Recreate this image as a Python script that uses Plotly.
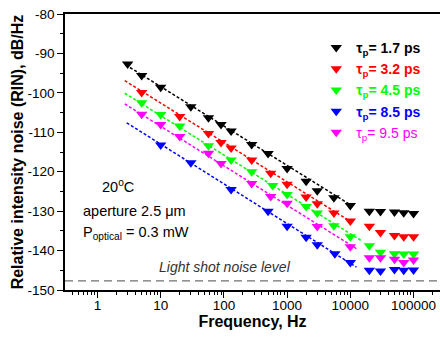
import plotly.graph_objects as go

# ---- data ----
labels = ["1.7", "3.2", "4.5", "8.5", "9.5"]
colors = ["#000000", "#FF0000", "#00FF00", "#0000FF", "#FF00FF"]
bold = [True, True, True, True, False]

freq_black = [3, 5, 10, 30, 57, 90, 130, 275, 500, 1000, 2000, 3000, 5500, 10000, 20000, 30000, 50000, 70000, 100000]
rin_black = [-92.7, -95.6, -98.6, -103.5, -106.3, -108.0, -109.7, -113.1, -115.4, -119.2, -122.4, -124.8, -126.6, -128.6, -130.0, -130.1, -130.2, -130.4, -130.6]

freq_red = [5, 20, 57, 90, 130, 275, 550, 1000, 2000, 3000, 5500, 10000, 20000, 30000, 50000, 70000, 100000]
rin_red = [-99.9, -106.0, -110.3, -112.6, -114.0, -117.0, -120.4, -123.2, -126.4, -128.1, -130.5, -132.5, -133.8, -135.4, -136.2, -136.5, -136.5]

freq_green = [5, 10, 20, 57, 130, 275, 590, 1000, 2000, 3000, 5500, 10000, 20000, 30000, 50000, 70000, 100000]
rin_green = [-102.5, -105.5, -108.4, -113.4, -117.0, -120.0, -123.5, -125.8, -128.8, -130.5, -133.7, -136.5, -138.8, -140.4, -140.8, -140.9, -140.9]

freq_blue = [10, 30, 130, 500, 1000, 2000, 3000, 5700, 10000, 20000, 30000, 50000, 70000, 100000]
rin_blue = [-113.2, -117.7, -124.5, -130.0, -133.8, -136.6, -138.5, -140.8, -143.0, -145.0, -145.2, -144.8, -145.0, -144.9]

freq_magenta = [5, 10, 20, 57, 90, 275, 550, 1000, 3000, 10000, 20000, 30000, 50000, 70000, 100000]
rin_magenta = [-105.4, -108.0, -111.1, -115.3, -117.9, -123.0, -126.3, -128.0, -133.9, -139.0, -141.8, -141.8, -142.2, -143.0, -142.4]

# fitted 1/f lines (end points)
fit_f = [[2.8, 10500], [2.7, 11000], [2.7, 15000], [2.9, 12500], [2.7, 12500]]
fit_rin = [[-92.9, -128.6], [-96.9, -133.0], [-100.1, -137.5], [-107.6, -144.2], [-102.8, -139.5]]

shot_noise_level = -147.7

x_ticks = [1, 10, 100, 1000, 10000, 100000]
x_ticklabels = ["1", "10", "100", "1000", "10000", "100000"]
y_ticks = [-150, -140, -130, -120, -110, -100, -90, -80]
y_ticklabels = ["-150", "-140", "-130", "-120", "-110", "-100", "-90", "-80"]

series_f = [freq_black, freq_red, freq_green, freq_blue, freq_magenta]
series_rin = [rin_black, rin_red, rin_green, rin_blue, rin_magenta]

FONT = "Liberation Sans, Arial, sans-serif"

fig = go.Figure()

for i in range(5):
    fig.add_trace(go.Scatter(
        x=fit_f[i], y=fit_rin[i], mode="lines",
        line=dict(color=colors[i], width=1.5, dash="3px,2px"),
        showlegend=False, hoverinfo="skip"))

for i in range(5):
    txt = "τ<sub>p</sub>= %s ps" % labels[i]
    if bold[i]:
        txt = "<b>" + txt + "</b>"
    name = "<span style='color:%s'>%s</span>" % (colors[i], txt)
    fig.add_trace(go.Scatter(
        x=series_f[i], y=series_rin[i], mode="markers", name=name,
        marker=dict(symbol="triangle-down", size=10, color=colors[i],
                    line=dict(width=0))))

fig.add_shape(type="line", xref="paper", x0=0, x1=1, yref="y",
              y0=shot_noise_level, y1=shot_noise_level,
              line=dict(color="#707070", width=1.2, dash="8px,5px"))

fig.add_annotation(xref="paper", yref="y", x=0.245, y=shot_noise_level + 1.0,
                   text="<i>Light shot noise level</i>", showarrow=False,
                   xanchor="left", yanchor="bottom",
                   font=dict(family=FONT, size=14, color="#333333"))

fig.add_annotation(xref="paper", yref="paper", x=0.094, y=0.378,
                   text="20<sup>o</sup>C", showarrow=False, xanchor="left", yanchor="middle",
                   font=dict(family=FONT, size=14.5, color="#000000"))
fig.add_annotation(xref="paper", yref="paper", x=0.042, y=0.286,
                   text="aperture 2.5 μm", showarrow=False, xanchor="left", yanchor="middle",
                   font=dict(family=FONT, size=14.5, color="#000000"))
fig.add_annotation(xref="paper", yref="paper", x=0.042, y=0.205,
                   text="P<sub>optical</sub> = 0.3 mW", showarrow=False, xanchor="left", yanchor="middle",
                   font=dict(family=FONT, size=14.5, color="#000000"))

fig.update_layout(
    width=440, height=342,
    margin=dict(l=65, r=0, t=14, b=52, autoexpand=False),
    paper_bgcolor="white", plot_bgcolor="white",
    font=dict(family=FONT, size=13.5, color="#000000"),
    showlegend=True,
    legend=dict(x=0.67, y=0.935, xanchor="left", yanchor="top",
                bgcolor="rgba(0,0,0,0)", font=dict(family=FONT, size=14),
                itemclick=False),
    xaxis=dict(type="log", range=[-0.514, 5.419], automargin=False,
               tickvals=x_ticks, ticktext=x_ticklabels,
               ticks="outside", ticklen=6, tickwidth=1.3, tickcolor="#000",
               ticklabelstandoff=-4,
               showline=True, linecolor="#000", linewidth=1.5, mirror=True,
               showgrid=False, zeroline=False,
               minor=dict(ticks="outside", ticklen=3, tickwidth=1, tickcolor="#000",
                          dtick="D1", showgrid=False),
               title=dict(text="<b>Frequency, Hz</b>", standoff=4,
                          font=dict(family=FONT, size=16))),
    yaxis=dict(range=[-150, -80], tickvals=y_ticks, ticktext=y_ticklabels,
               automargin=False,
               ticks="outside", ticklen=6, tickwidth=1.3, tickcolor="#000",
               showline=True, linecolor="#000", linewidth=1.5,
               showgrid=False, zeroline=False,
               minor=dict(ticks="outside", ticklen=3, tickwidth=1, tickcolor="#000",
                          dtick=5, showgrid=False),
               title=dict(text="<b>Relative intensity noise (RIN), dB/Hz</b>", standoff=0,
                          font=dict(family=FONT, size=16))),
)

fig.write_html("out.html", config={"displayModeBar": False},
               post_script="document.body.style.margin='0px';document.body.style.overflow='hidden';")
